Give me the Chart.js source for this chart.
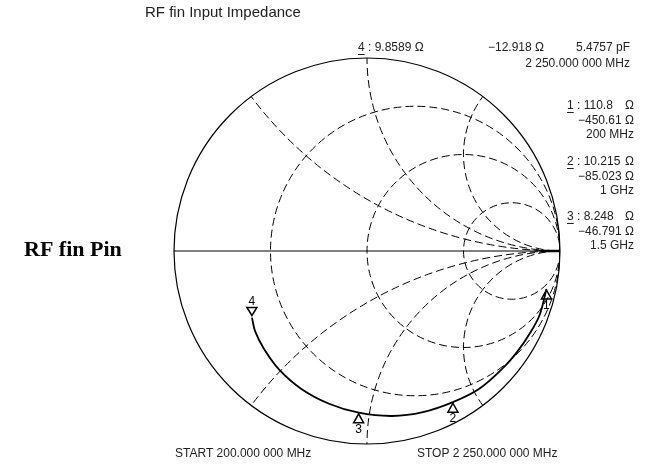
<!DOCTYPE html>
<html>
<head>
<meta charset="utf-8">
<script src="https://cdn.jsdelivr.net/npm/chart.js@4.4.0/dist/chart.umd.min.js"></script>
<style>
    html, body { margin: 0; padding: 0; background: #fff; }
    #wrap { position: relative; width: 645px; height: 464px; }
</style>
</head>
<body>
<div id="wrap"><canvas id="smith"></canvas></div>
<script>
// Smith chart grid (normalised to Z0)
const Z0 = 50;
const resistanceCircles = [1 / 3, 1, 3];
const reactanceArcs = [0.5, 1, 2, -0.5, -1, -2];

const traceRe = [0.930, 0.895, 0.845, 0.780, 0.705, 0.580, 0.445, 0.290, 0.130, -0.043, -0.200, -0.340, -0.455, -0.535, -0.580, -0.596];
const traceIm = [-0.197, -0.330, -0.425, -0.520, -0.606, -0.715, -0.783, -0.835, -0.855, -0.838, -0.790, -0.715, -0.615, -0.505, -0.415, -0.345];

// Markers (ohms)
const markerIds = ['1', '2', '3', '4'];
const markerR = [110.8, 10.215, 8.248, 9.8589];
const markerX = [-450.61, -85.023, -46.791, -12.918];
const markerRText = ['110.8', '10.215', '8.248', '9.8589'];
const markerXText = ['\u2212450.61 \u03A9', '\u221285.023 \u03A9', '\u221246.791 \u03A9', '\u221212.918 \u03A9'];
const markerFreq = ['200 MHz', '1 GHz', '1.5 GHz', '2 250.000 000 MHz'];

const SANS = '"Liberation Sans", Arial, Helvetica, sans-serif';
const SERIF = '"Liberation Serif", "Times New Roman", serif';

function toGamma(R, X) {
    const r = R / Z0, x = X / Z0;
    const den = (r + 1) * (r + 1) + x * x;
    return { x: (r * r + x * x - 1) / den, y: 2 * x / den };
}

const smithGrid = {
    id: 'smithGrid',
    beforeDatasetsDraw(chart) {
        const { ctx, scales: { x: sx, y: sy } } = chart;
        const px = v => sx.getPixelForValue(v);
        const py = v => sy.getPixelForValue(v);
        const cx = px(0), cy = py(0), R = px(1) - cx;

        ctx.save();
        ctx.beginPath();
        ctx.arc(cx, cy, R, 0, Math.PI * 2);
        ctx.clip();
        ctx.setLineDash([8, 4]);
        ctx.lineWidth = 1;
        ctx.strokeStyle = '#000';
        resistanceCircles.forEach(r => {
            const c = r / (1 + r);
            ctx.beginPath();
            ctx.arc(px(c), cy, R / (1 + r), 0, Math.PI * 2);
            ctx.stroke();
        });
        reactanceArcs.forEach(x => {
            ctx.beginPath();
            ctx.arc(px(1), py(1 / x), R / Math.abs(x), 0, Math.PI * 2);
            ctx.stroke();
        });
        ctx.restore();

        // outer circle and real axis
        ctx.save();
        ctx.strokeStyle = '#000';
        ctx.lineWidth = 1.2;
        ctx.beginPath();
        ctx.arc(cx, cy, R, 0, Math.PI * 2);
        ctx.stroke();
        ctx.lineWidth = 1;
        ctx.beginPath();
        ctx.moveTo(px(-1), cy);
        ctx.lineTo(px(1), cy);
        ctx.stroke();
        ctx.lineWidth = 2.5;
        ctx.beginPath();
        ctx.moveTo(px(0.9), cy);
        ctx.lineTo(px(1), cy);
        ctx.stroke();
        ctx.restore();
    }
};

const markerLayer = {
    id: 'markerLayer',
    afterDatasetsDraw(chart) {
        const { ctx, scales: { x: sx, y: sy } } = chart;
        ctx.save();
        ctx.strokeStyle = '#000';
        ctx.fillStyle = '#000';
        ctx.lineWidth = 1.5;
        ctx.font = '12px ' + SANS;
        ctx.textAlign = 'center';
        ctx.textBaseline = 'middle';
        markerIds.forEach((id, i) => {
            const g = toGamma(markerR[i], markerX[i]);
            const x = sx.getPixelForValue(g.x), y = sy.getPixelForValue(g.y);
            ctx.beginPath();
            if (i < 3) {
                ctx.moveTo(x, y + 1);
                ctx.lineTo(x - 5, y + 10);
                ctx.lineTo(x + 5, y + 10);
                ctx.closePath();
                ctx.stroke();
                ctx.fillText(id, x, y + 17);
            } else {
                ctx.moveTo(x, y - 2);
                ctx.lineTo(x - 5, y - 10);
                ctx.lineTo(x + 5, y - 10);
                ctx.closePath();
                ctx.stroke();
                ctx.fillText(id, x, y - 16);
            }
        });
        ctx.restore();
    }
};

function underlinedId(ctx, id, x, y) {
    ctx.fillText(id, x, y);
    const w = ctx.measureText(id).width;
    ctx.fillRect(x, y + 6, w, 1);
    return w;
}

const labels = {
    id: 'labels',
    afterDraw(chart) {
        const ctx = chart.ctx;
        ctx.save();
        ctx.fillStyle = '#222';
        ctx.textBaseline = 'middle';

        ctx.font = '15px ' + SANS;
        ctx.textAlign = 'left';
        ctx.fillText('RF fin Input Impedance', 145, 13);

        ctx.fillStyle = '#000';
        ctx.font = 'bold 22px ' + SERIF;
        ctx.fillText('RF fin Pin', 24, 250);

        ctx.fillStyle = '#222';
        ctx.font = '12px ' + SANS;
        // marker 4 readout across the top
        let w = underlinedId(ctx, markerIds[3], 358, 48);
        ctx.fillText(' : ' + markerRText[3] + ' \u03A9', 358 + w, 48);
        ctx.textAlign = 'right';
        ctx.fillText(markerXText[3], 544, 48);
        ctx.fillText('5.4757 pF', 630, 48);
        ctx.fillText(markerFreq[3], 630, 64);

        // markers 1-3 down the right side
        const tops = [106, 162, 217];
        for (let i = 0; i < 3; i++) {
            const y = tops[i];
            ctx.textAlign = 'left';
            w = underlinedId(ctx, markerIds[i], 567, y);
            ctx.fillText(' : ' + markerRText[i], 567 + w, y);
            ctx.textAlign = 'right';
            ctx.fillText('\u03A9', 634, y);
            ctx.fillText(markerXText[i], 634, y + 15);
            ctx.fillText(markerFreq[i], 634, y + 29);
        }

        ctx.textAlign = 'left';
        ctx.fillText('START 200.000 000 MHz', 175, 454);
        ctx.fillText('STOP 2 250.000 000 MHz', 417, 454);
        ctx.restore();
    }
};

const chart = new Chart(document.getElementById('smith'), {
    type: 'scatter',
    data: {
        datasets: [{
            label: 'Impedance',
            data: traceRe.map((x, i) => ({ x, y: traceIm[i] })),
            showLine: true,
            borderColor: '#000',
            borderWidth: 1.8,
            pointRadius: 0,
            tension: 0.35
        }]
    },
    options: {
        responsive: true,
        maintainAspectRatio: false,
        animation: false,
        layout: { padding: { left: 174, right: 85, top: 58, bottom: 20 } },
        plugins: {
            legend: { display: false },
            tooltip: { enabled: false }
        },
        scales: {
            x: { type: 'linear', min: -1, max: 1, display: false },
            y: { type: 'linear', min: -1, max: 1, display: false }
        }
    },
    plugins: [smithGrid, markerLayer, labels]
});
</script>
</body>
</html>
